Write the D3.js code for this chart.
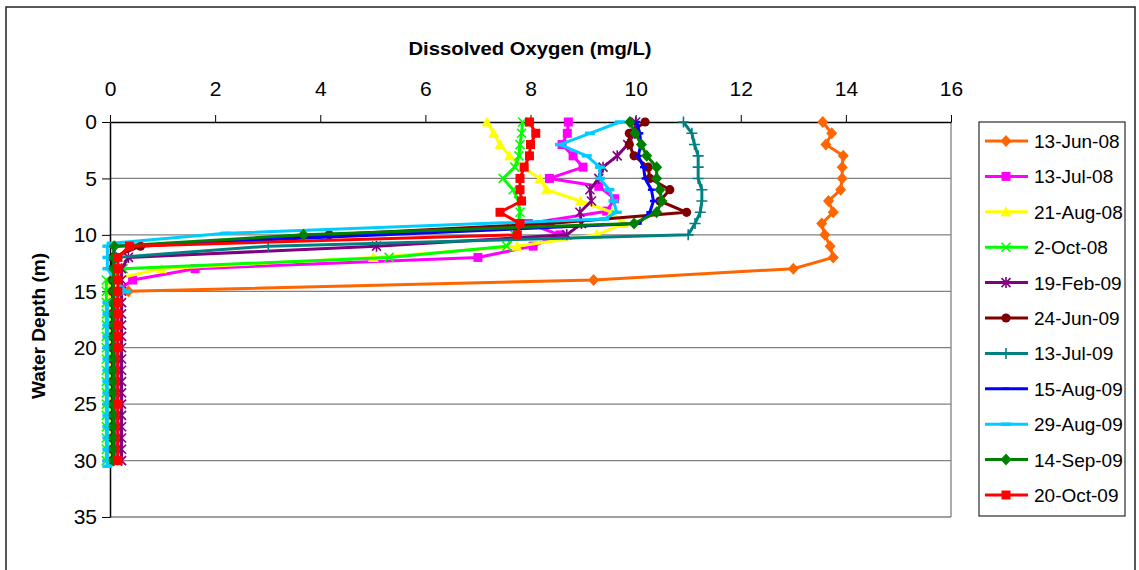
<!DOCTYPE html>
<html>
<head>
<meta charset="utf-8">
<script src="https://cdn.jsdelivr.net/npm/d3@7"></script>
<style>
  html, body { margin: 0; padding: 0; background: #fff; }
  svg { display: block; font-family: Arial, "Liberation Sans", sans-serif; }
</style>
</head>
<body>
<svg id="chart" width="1139" height="570"></svg>
<script>
// Dissolved oxygen profiles, [depth (m), DO (mg/L)] per sampling date
const s13Jun08 = [[0,13.56],[1,13.73],[2,13.62],[3,13.95],[4,13.93],[5,13.93],[6,13.9],[7,13.67],[8,13.76],[9,13.54],[10,13.6],[11,13.7],[12,13.76],[13,13.0],[14,9.2],[15,0.35]];
const s13Jul08 = [[0,8.72],[1,8.7],[2,8.6],[3,8.81],[4,9.0],[5,8.36],[5.7,9.3],[6.8,9.6],[7.9,9.45],[9,7.96],[10,8.56],[11,8.05],[12,7.0],[13,1.62],[14,0.43],[15,0.12],[16,0.12],[17,0.12],[18,0.12],[19,0.12],[20,0.12],[21,0.12],[22,0.12],[23,0.12],[24,0.12],[25,0.12],[26,0.12],[27,0.12],[28,0.12],[29,0.12],[30,0.12]];
const s21Aug08 = [[0,7.17],[1,7.3],[2,7.42],[3,7.6],[4,7.85],[5,8.18],[6,8.3],[7,8.95],[8,9.55],[9,9.77],[10,9.26],[11,7.74],[12,5.01],[13,0.98],[14,0.0],[15,0.0],[16,0.0],[17,0.0],[18,0.0],[19,0.0],[20,0.0],[21,0.0],[22,0.0],[23,0.0],[24,0.0],[25,0.0],[26,0.0],[27,0.0],[28,0.0],[29,0.0],[30,0.0]];
const s2Oct08 = [[0,7.85],[1,7.83],[2,7.8],[3,7.78],[4,7.7],[5,7.48],[6,7.67],[7,7.77],[8,7.8],[9,7.77],[10,7.7],[11,7.55],[12,5.31],[13,0.25],[14,-0.07],[15,-0.07],[16,-0.07],[17,-0.07],[18,-0.07],[19,-0.07],[20,-0.07],[21,-0.07],[22,-0.07],[23,-0.07],[24,-0.07],[25,-0.07],[26,-0.07],[27,-0.07],[28,-0.07],[29,-0.07],[30,-0.07]];
const s19Feb09 = [[0,10.0],[1,9.98],[2,9.85],[3,9.65],[4,9.38],[5,9.3],[6,9.13],[7,9.16],[8,8.94],[9,8.97],[10,8.69],[11,5.07],[12,0.35],[13,0.22],[14,0.22],[15,0.22],[16,0.22],[17,0.22],[18,0.22],[19,0.22],[20,0.22],[21,0.22],[22,0.22],[23,0.22],[24,0.22],[25,0.22],[26,0.22],[27,0.22],[28,0.22],[29,0.22],[30,0.22]];
const s24Jun09 = [[0,10.18],[1,9.88],[2,9.88],[3,9.97],[4,10.24],[5,10.27],[6,10.65],[7,10.46],[8,10.97],[9,8.37],[10,4.17],[11,0.58],[12,0.05],[13,0.05],[14,0.05],[15,0.05],[16,0.05],[17,0.05],[18,0.05],[19,0.05],[20,0.05],[21,0.05],[22,0.05],[23,0.05],[24,0.05],[25,0.05],[26,0.05],[27,0.05],[28,0.05],[29,0.05],[30,0.05]];
const s13Jul09 = [[0,10.91],[1,11.07],[2,11.12],[3,11.19],[4,11.19],[5,11.19],[6,11.26],[7,11.26],[8,11.23],[9,11.13],[10,11.0],[11,3.01],[12,0.12],[13,0.05],[14,0.05],[15,0.05],[16,0.05],[17,0.05],[18,0.05],[19,0.05],[20,0.05],[21,0.05],[22,0.05],[23,0.05],[24,0.05],[25,0.05],[26,0.05],[27,0.05],[28,0.05],[29,0.05],[30,0.05]];
const s15Aug09 = [[0,10.02],[1,10.08],[2,10.1],[3,10.05],[4,10.15],[5,10.18],[6,10.3],[7,10.34],[8,10.27],[9,10.05],[10,5.2],[11,0.1],[12,0.05],[13,0.05],[14,0.05],[15,0.05],[16,0.05],[17,0.05],[18,0.05],[19,0.05],[20,0.05],[21,0.05],[22,0.05],[23,0.05],[24,0.05],[25,0.05],[26,0.05],[27,0.05],[28,0.05],[29,0.05],[30,0.05]];
const s29Aug09 = [[0,9.7],[1,9.13],[2,8.56],[3,9.07],[4,9.32],[5,9.32],[6,9.5],[7,9.58],[8,9.64],[8.6,9.4],[9.86,2.2],[10.75,0.03],[11,-0.05],[12,-0.05],[13,-0.05],[14,0.1],[15,0.3],[16,-0.05],[17,-0.05],[18,-0.05],[19,-0.05],[20,-0.05],[21,-0.05],[22,-0.05],[23,-0.05],[24,-0.05],[25,-0.05],[26,-0.05],[27,-0.05],[28,-0.05],[29,-0.05],[30,-0.05],[30.5,-0.05]];
const s14Sep09 = [[0,9.89],[1,9.99],[2,10.11],[3,10.21],[4,10.4],[5,10.4],[6,10.46],[7,10.5],[8,10.4],[9,9.97],[10,3.68],[11,0.08],[12,0.07],[13,0.07],[14,0.07],[15,0.07],[16,0.07],[17,0.07],[18,0.07],[19,0.07],[20,0.07],[21,0.07],[22,0.07],[23,0.07],[24,0.07],[25,0.07],[26,0.07],[27,0.07],[28,0.07],[29,0.07],[30,0.07]];
const s20Oct09 = [[0,7.98],[1,8.1],[2,8.0],[3,7.98],[4,7.88],[5,7.8],[6,7.8],[7,7.83],[8,7.42],[9,7.8],[10,7.75],[11,0.37],[12,0.15],[13,0.15],[14,0.15],[15,0.15],[16,0.15],[17,0.15],[18,0.15],[19,0.15],[20,0.15],[25,0.15],[30,0.15]];

const seriesLabels = ["13-Jun-08","13-Jul-08","21-Aug-08","2-Oct-08","19-Feb-09","24-Jun-09","13-Jul-09","15-Aug-09","29-Aug-09","14-Sep-09","20-Oct-09"];
const seriesData = [s13Jun08, s13Jul08, s21Aug08, s2Oct08, s19Feb09, s24Jun09, s13Jul09, s15Aug09, s29Aug09, s14Sep09, s20Oct09];
const xTicks = [0, 2, 4, 6, 8, 10, 12, 14, 16];
const yTicks = [0, 5, 10, 15, 20, 25, 30, 35];

// Line colour and marker shape for each series
const seriesStyle = [
  { color: "#FF6600", marker: "diamond" },
  { color: "#FF00FF", marker: "square" },
  { color: "#FFFF00", marker: "triangle" },
  { color: "#00FF00", marker: "cross" },
  { color: "#800080", marker: "star" },
  { color: "#800000", marker: "circle" },
  { color: "#008080", marker: "plus" },
  { color: "#0000FF", marker: "dash" },
  { color: "#00CCFF", marker: "bar" },
  { color: "#008000", marker: "diamond" },
  { color: "#FF0000", marker: "square" }
];

const svg = d3.select("#chart");
const plot = { left: 110, right: 951, top: 122, bottom: 517 };

const x = d3.scaleLinear().domain([0, 16]).range([plot.left, plot.right]);
const y = d3.scaleLinear().domain([0, 35]).range([plot.top, plot.bottom]);

// Outer chart frame
svg.append("rect")
  .attr("x", 6).attr("y", 7).attr("width", 1129).attr("height", 580)
  .attr("fill", "#fff").attr("stroke", "#222").attr("stroke-width", 1.5);

// Horizontal gridlines
svg.append("g").selectAll("line").data(yTicks.slice(1)).join("line")
  .attr("x1", plot.left).attr("x2", plot.right)
  .attr("y1", d => y(d)).attr("y2", d => y(d))
  .attr("stroke", "#808080").attr("stroke-width", 1.3);

// Right edge of the plot area
svg.append("line")
  .attr("x1", plot.right).attr("x2", plot.right)
  .attr("y1", plot.top).attr("y2", plot.bottom)
  .attr("stroke", "#808080").attr("stroke-width", 1.3);

// Axes
const xAxis = svg.append("g")
  .attr("transform", `translate(0,${plot.top})`)
  .call(d3.axisTop(x).tickValues(xTicks).tickSize(7).tickPadding(19).tickSizeOuter(0));
const yAxis = svg.append("g")
  .attr("transform", `translate(${plot.left},0)`)
  .call(d3.axisLeft(y).tickValues(yTicks).tickSize(8).tickPadding(5).tickSizeOuter(0));

[xAxis, yAxis].forEach(g => {
  g.select(".domain").attr("stroke", "#000").attr("stroke-width", 1.5);
  g.selectAll(".tick line").attr("stroke", "#000").attr("stroke-width", 1);
  g.selectAll(".tick text")
    .attr("fill", "#000")
    .style("font-family", "Arial, 'Liberation Sans', sans-serif")
    .style("font-size", "21px");
});

// Axis titles
svg.append("text")
  .attr("x", 530).attr("y", 55)
  .attr("text-anchor", "middle")
  .attr("font-weight", "bold").attr("font-size", 19)
  .attr("textLength", 243).attr("lengthAdjust", "spacingAndGlyphs")
  .text("Dissolved Oxygen (mg/L)");

svg.append("text")
  .attr("transform", "translate(45,326) rotate(-90)")
  .attr("text-anchor", "middle")
  .attr("font-weight", "bold").attr("font-size", 18)
  .attr("textLength", 146).attr("lengthAdjust", "spacingAndGlyphs")
  .text("Water Depth (m)");

// Marker geometry
function markerPath(type) {
  switch (type) {
    case "diamond": return "M0,-6L5.5,0L0,6L-5.5,0Z";
    case "square": return "M-4.5,-4.5H4.5V4.5H-4.5Z";
    case "triangle": return "M0,-5.5L5.5,4.5H-5.5Z";
    case "cross": return "M-4.5,-4.5L4.5,4.5M-4.5,4.5L4.5,-4.5";
    case "star": return "M-4.5,-4.5L4.5,4.5M-4.5,4.5L4.5,-4.5M0,-5.5V5.5";
    case "plus": return "M-5.5,0H5.5M0,-5.5V5.5";
    case "dash": return "M-3.5,0H3.5";
    case "bar": return "M-5,0H5";
    default: return "";
  }
}
function drawMarker(sel, style) {
  const t = style.marker;
  if (t === "circle") {
    sel.append("circle").attr("r", 4.6).attr("fill", style.color);
  } else if (t === "diamond" || t === "square" || t === "triangle") {
    sel.append("path").attr("d", markerPath(t)).attr("fill", style.color);
  } else {
    sel.append("path").attr("d", markerPath(t)).attr("fill", "none")
      .attr("stroke", style.color)
      .attr("stroke-width", t === "bar" ? 3.5 : (t === "dash" ? 2.5 : 1.6));
  }
}

const line = d3.line().x(d => x(d[1])).y(d => y(d[0]));

// Series: line then markers, drawn in order
seriesData.forEach((data, i) => {
  const style = seriesStyle[i];
  const g = svg.append("g");
  g.append("path").datum(data)
    .attr("d", line)
    .attr("fill", "none")
    .attr("stroke", style.color)
    .attr("stroke-width", 3)
    .attr("stroke-linejoin", "round");
  g.selectAll("g.m").data(data).join("g")
    .attr("class", "m")
    .attr("transform", d => `translate(${x(d[1])},${y(d[0])})`)
    .each(function () { drawMarker(d3.select(this), style); });
});

// Legend
const legend = svg.append("g");
legend.append("rect")
  .attr("x", 979).attr("y", 122).attr("width", 146).attr("height", 394)
  .attr("fill", "#fff").attr("stroke", "#000").attr("stroke-width", 1);

const legendY = d3.scaleLinear().domain([0, seriesLabels.length - 1]).range([141, 495]);
seriesLabels.forEach((label, i) => {
  const style = seriesStyle[i];
  const cy = legendY(i);
  legend.append("line")
    .attr("x1", 985).attr("x2", 1028).attr("y1", cy).attr("y2", cy)
    .attr("stroke", style.color).attr("stroke-width", 3);
  drawMarker(legend.append("g").attr("transform", `translate(1006,${cy})`), style);
  legend.append("text")
    .attr("x", 1034).attr("y", cy + 7)
    .attr("font-size", 19)
    .attr("fill", "#000")
    .text(label);
});
</script>
</body>
</html>
